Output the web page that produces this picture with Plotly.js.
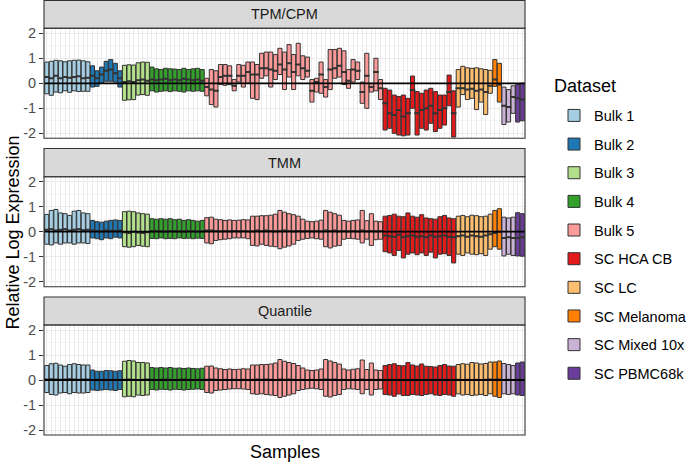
<!DOCTYPE html>
<html><head><meta charset="utf-8">
<script src="https://cdn.plot.ly/plotly-3.0.1.min.js"></script>
<style>html,body{margin:0;padding:0;background:#fff}#chart{width:692px;height:462px}</style>
</head><body><div id="chart"></div>
<script>
// ---------------- DATA ----------------
const datasets = ['Bulk 1','Bulk 2','Bulk 3','Bulk 4','Bulk 5','SC HCA CB','SC LC','SC Melanoma','SC Mixed 10x','SC PBMC68k'];
const datasetCounts = [10,7,6,12,39,16,8,2,3,2];
const datasetColors = ['#A6CEE3','#1F78B4','#B2DF8A','#33A02C','#FB9A99','#E31A1C','#FDBF6F','#FF7F00','#CAB2D6','#6A3D9A'];
const facetNames = ['TPM/CPM','TMM','Quantile'];
const legendTitle = 'Dataset';
const yTickVals = [-2,-1,0,1,2];
const yTickText = ['-2','-1','0','1','2'];

// TPM/CPM (samples in order)
const tpmQ3 = [
 0.85,0.88,0.92,0.90,0.86,0.90,0.92,0.93,0.90,0.86,
 0.70,0.50,0.65,0.88,0.95,0.80,0.50,
 0.72,0.74,0.73,0.82,0.85,0.84,
 0.65,0.58,0.55,0.60,0.58,0.57,0.55,0.60,0.55,0.58,0.60,0.55,
 0.20,0.55,0.50,0.75,0.75,0.70,0.15,0.75,0.72,0.85,
 0.85,0.75,1.20,1.25,1.25,1.15,1.40,1.25,1.55,1.15,
 1.60,1.10,1.05,0.15,0.20,0.85,0.15,1.35,1.35,1.40,
 1.30,0.55,0.95,0.85,0.05,1.20,0.00,1.00,0.15,
 -0.20,-0.27,-0.47,-0.53,-0.47,-0.60,0.29,-0.33,-0.40,-0.27,-0.20,-0.33,-0.47,-0.47,0.33,-0.30,
 0.55,0.68,0.62,0.60,0.62,0.58,0.55,0.52,
 0.95,0.80,
 -0.15,-0.25,-0.10,
 -0.05,0.00];
const tpmMed = [
 0.25,0.20,0.30,0.20,0.25,0.22,0.25,0.28,0.20,0.22,
 0.30,0.20,0.35,0.50,0.55,0.40,0.20,
 0.05,0.08,0.05,0.12,0.15,0.10,
 0.15,0.12,0.15,0.18,0.12,0.15,0.12,0.18,0.15,0.12,0.15,0.10,
 -0.15,-0.25,-0.30,0.25,0.30,0.30,-0.10,0.30,0.30,0.45,
 0.35,0.35,0.60,0.60,0.55,0.50,0.75,0.55,0.80,0.45,
 0.75,0.60,0.50,-0.30,0.05,0.35,-0.15,0.55,0.60,0.70,
 0.45,0.10,0.55,0.50,-0.35,0.30,-0.15,0.45,-0.20,
 -0.80,-1.20,-1.27,-1.07,-1.33,-1.20,-0.27,-1.20,-1.07,-1.00,-0.90,-1.20,-1.07,-1.00,-0.35,-1.20,
 -0.20,-0.20,-0.25,-0.22,-0.30,-0.25,-0.35,-0.10,
 0.15,-0.05,
 -0.90,-0.95,-0.55,
 -0.60,-0.65];
const tpmQ1 = [
 -0.42,-0.48,-0.35,-0.38,-0.30,-0.36,-0.30,-0.33,-0.32,-0.32,
 -0.15,-0.12,0.00,0.08,0.08,0.05,-0.15,
 -0.68,-0.66,-0.65,-0.47,-0.45,-0.48,
 -0.30,-0.35,-0.32,-0.30,-0.33,-0.30,-0.32,-0.35,-0.30,-0.32,-0.30,-0.32,
 -0.50,-0.85,-0.95,-0.05,-0.08,-0.05,-0.30,0.05,-0.15,0.00,
 -0.60,-0.65,0.20,0.30,-0.15,0.15,0.35,-0.25,0.25,-0.25,
 0.30,0.15,0.25,-0.75,-0.35,-0.40,-0.55,-0.25,0.20,0.25,
 -0.05,-0.20,0.05,0.15,-0.80,-1.00,-0.35,-0.30,-0.65,
 -1.87,-1.80,-2.00,-2.07,-2.10,-2.07,-1.00,-2.07,-1.80,-1.87,-1.60,-1.93,-1.80,-1.67,-0.90,-2.15,
 -0.95,-0.45,-0.65,-0.60,-1.05,-0.75,-1.25,-0.40,
 -0.12,-0.75,
 -1.65,-1.55,-1.20,
 -1.55,-1.50];

// TMM
const tmmQ3 = [
 0.69,0.85,0.89,0.75,0.72,0.65,0.82,0.85,0.75,0.72,
 0.45,0.40,0.38,0.42,0.45,0.47,0.45,
 0.80,0.82,0.80,0.75,0.72,0.70,
 0.52,0.50,0.52,0.50,0.52,0.48,0.50,0.45,0.48,0.45,0.42,0.45,
 0.56,0.58,0.50,0.48,0.45,0.47,0.45,0.46,0.48,0.47,
 0.62,0.62,0.64,0.64,0.66,0.70,0.85,0.78,0.72,0.68,
 0.62,0.50,0.42,0.40,0.42,0.46,0.85,0.78,0.72,0.66,
 0.45,0.42,0.45,0.47,0.85,0.44,0.72,0.42,0.40,
 0.62,0.65,0.70,0.62,0.60,0.75,0.62,0.58,0.68,0.55,0.52,0.50,0.60,0.65,0.55,0.52,
 0.62,0.65,0.60,0.66,0.64,0.60,0.62,0.70,
 0.85,0.92,
 0.58,0.55,0.58,
 0.76,0.72];
const tmmMed = [
 0.08,0.10,0.05,0.08,0.10,0.05,0.08,0.10,0.06,0.08,
 0.05,0.03,0.02,0.05,0.04,0.03,0.05,
 -0.02,-0.05,0.00,-0.03,-0.05,-0.02,
 0.02,0.03,0.02,0.01,0.03,0.02,0.02,0.01,0.03,0.02,0.01,0.02,
 0.05,0.05,0.03,0.02,0.03,0.02,0.03,0.02,0.03,0.02,
 0.02,0.05,0.03,0.05,0.03,0.02,0.03,0.05,0.03,0.02,
 0.03,0.02,0.03,0.02,0.03,0.02,0.05,0.03,0.05,0.02,
 0.03,0.02,0.03,0.02,0.05,0.02,0.03,0.02,0.03,
 -0.15,-0.18,-0.20,-0.12,-0.22,-0.18,-0.15,-0.20,-0.18,-0.22,-0.15,-0.20,-0.18,-0.15,-0.20,-0.22,
 -0.18,-0.15,-0.20,-0.15,-0.18,-0.20,-0.15,-0.10,
 -0.05,0.00,
 -0.25,-0.22,-0.25,
 -0.25,-0.22];
const tmmQ1 = [
 -0.50,-0.53,-0.45,-0.50,-0.45,-0.45,-0.50,-0.45,-0.45,-0.47,
 -0.25,-0.28,-0.32,-0.25,-0.28,-0.22,-0.25,
 -0.60,-0.62,-0.60,-0.55,-0.58,-0.60,
 -0.27,-0.28,-0.25,-0.28,-0.27,-0.28,-0.25,-0.27,-0.26,-0.28,-0.26,-0.27,
 -0.45,-0.48,-0.35,-0.32,-0.30,-0.28,-0.25,-0.25,-0.25,-0.28,
 -0.55,-0.57,-0.50,-0.55,-0.58,-0.60,-0.68,-0.62,-0.57,-0.50,
 -0.35,-0.30,-0.27,-0.25,-0.28,-0.30,-0.60,-0.65,-0.58,-0.55,
 -0.30,-0.27,-0.28,-0.30,-0.45,-0.30,-0.55,-0.32,-0.30,
 -0.80,-0.85,-0.95,-0.75,-1.05,-0.90,-0.85,-0.92,-0.85,-0.95,-0.82,-1.05,-0.90,-0.88,-0.95,-1.25,
 -0.90,-0.95,-0.85,-0.90,-0.92,-0.88,-0.95,-0.70,
 -0.60,-0.70,
 -0.97,-0.90,-0.95,
 -0.97,-0.98];

// Quantile
const qntQ3 = [
 0.58,0.65,0.67,0.60,0.55,0.62,0.65,0.62,0.60,0.60,
 0.40,0.35,0.35,0.38,0.37,0.35,0.37,
 0.75,0.78,0.76,0.70,0.70,0.68,
 0.50,0.48,0.50,0.48,0.50,0.47,0.48,0.46,0.48,0.46,0.45,0.47,
 0.55,0.56,0.48,0.45,0.42,0.44,0.42,0.43,0.45,0.44,
 0.60,0.60,0.62,0.62,0.64,0.68,0.82,0.75,0.70,0.66,
 0.58,0.48,0.40,0.38,0.40,0.44,0.82,0.76,0.70,0.64,
 0.44,0.40,0.43,0.45,0.80,0.42,0.68,0.40,0.38,
 0.58,0.62,0.65,0.58,0.57,0.70,0.60,0.56,0.64,0.55,0.54,0.52,0.58,0.62,0.56,0.55,
 0.62,0.65,0.63,0.70,0.68,0.64,0.66,0.72,
 0.72,0.76,
 0.66,0.62,0.58,
 0.68,0.72];
const qntMed = [
 0.02,0.03,0.02,0.01,0.02,0.03,0.02,0.01,0.02,0.02,
 0.00,0.01,0.00,0.01,0.00,0.01,0.00,
 0.01,0.02,0.01,0.00,0.01,0.02,
 0.01,0.00,0.01,0.02,0.01,0.00,0.01,0.02,0.01,0.00,0.01,0.01,
 0.01,0.02,0.01,0.00,0.01,0.00,0.01,0.00,0.01,0.00,
 0.01,0.02,0.01,0.02,0.01,0.00,0.02,0.01,0.02,0.01,
 0.00,0.01,0.00,0.01,0.00,0.01,0.02,0.01,0.02,0.00,
 0.01,0.00,0.01,0.00,0.02,0.00,0.01,0.00,0.01,
 0.00,0.01,0.00,0.01,0.00,0.01,0.00,0.01,0.00,0.01,0.00,0.01,0.00,0.01,0.00,0.01,
 0.01,0.00,0.01,0.00,0.01,0.00,0.01,0.02,
 0.01,0.02,
 0.00,0.01,0.00,
 0.01,0.00];
const qntQ1 = [
 -0.50,-0.58,-0.60,-0.52,-0.50,-0.55,-0.50,-0.52,-0.52,-0.50,
 -0.40,-0.42,-0.40,-0.38,-0.40,-0.42,-0.38,
 -0.67,-0.65,-0.67,-0.60,-0.62,-0.60,
 -0.38,-0.40,-0.37,-0.38,-0.40,-0.37,-0.38,-0.40,-0.38,-0.37,-0.36,-0.38,
 -0.50,-0.52,-0.42,-0.40,-0.38,-0.36,-0.35,-0.35,-0.36,-0.38,
 -0.55,-0.57,-0.55,-0.58,-0.60,-0.62,-0.70,-0.65,-0.60,-0.55,
 -0.42,-0.38,-0.35,-0.33,-0.35,-0.38,-0.65,-0.68,-0.62,-0.58,
 -0.38,-0.35,-0.36,-0.38,-0.55,-0.38,-0.60,-0.38,-0.36,
 -0.58,-0.60,-0.65,-0.56,-0.62,-0.62,-0.58,-0.60,-0.62,-0.58,-0.55,-0.60,-0.62,-0.58,-0.60,-0.65,
 -0.55,-0.60,-0.58,-0.62,-0.60,-0.58,-0.62,-0.55,
 -0.65,-0.70,
 -0.55,-0.58,-0.55,
 -0.60,-0.62];

const facetData = [
  {q1: tpmQ1, med: tpmMed, q3: tpmQ3},
  {q1: tmmQ1, med: tmmMed, q3: tmmQ3},
  {q1: qntQ1, med: qntMed, q3: qntQ3}
];

// ---------------- LAYOUT GEOMETRY ----------------
const W = 692, H = 462;
const mL = 44, mR = 158, mT = 0, mB = 27;
const plotH = H - mT - mB; // 435
const plotW = W - mL - mR; // 490
const panelPx = [[28.3,138.3],[176.7,286.7],[325,435]];
const stripPx = [[0.5,28.3],[148.5,176.7],[297,325]];
const py = p => (plotH - (p - mT)) / plotH;
const pxX = p => (p - mL) / plotW;
const font = 'Liberation Sans, Arial, sans-serif';

// sample positions
const nSamples = datasetCounts.reduce((a,b)=>a+b,0);
const samplePos = [];
for (let i = 1; i <= nSamples; i++) samplePos.push(i);

const yNames = ['y','y2','y3'];
const traces = [];
facetData.forEach((fd, f) => {
  let start = 0;
  datasets.forEach((ds, d) => {
    const end = start + datasetCounts[d];
    const q1 = fd.q1.slice(start, end), q3 = fd.q3.slice(start, end);
    traces.push({
      type: 'box',
      x: samplePos.slice(start, end),
      q1: q1, median: fd.med.slice(start, end), q3: q3,
      lowerfence: q1, upperfence: q3,
      xaxis: 'x', yaxis: yNames[f],
      name: ds, legendgroup: ds, showlegend: f === 0,
      fillcolor: datasetColors[d],
      line: {color: '#333333', width: 1},
      width: 0.9, whiskerwidth: 0,
      boxpoints: false, hoverinfo: 'skip'
    });
    start = end;
  });
  // thicker median bars (ggplot fatten = 2)
  traces.push({
    type: 'scatter', mode: 'markers', x: samplePos, y: fd.med,
    xaxis: 'x', yaxis: yNames[f], showlegend: false, hoverinfo: 'skip',
    marker: {symbol: 'line-ew', size: 4, line: {color: '#333333', width: 2}}
  });
});

const yAxisBase = {
  range: [-2.2, 2.2], tickvals: yTickVals, ticktext: yTickText,
  ticks: 'outside', ticklen: 4, tickwidth: 1, tickcolor: '#333333',
  tickfont: {family: font, size: 14.5, color: '#4D4D4D'},
  showgrid: true, gridcolor: '#EBEBEB', gridwidth: 1,
  minor: {tickvals: [-1.5,-0.5,0.5,1.5], showgrid: true, gridcolor: '#EBEBEB', gridwidth: 0.5, ticks: ''},
  zeroline: false, showline: false, anchor: 'x', fixedrange: true
};

const layout = {
  width: W, height: H,
  margin: {l: mL, r: mR, t: mT, b: mB, pad: 0},
  paper_bgcolor: '#ffffff', plot_bgcolor: '#ffffff',
  font: {family: font, color: '#000000'},
  showlegend: true,
  xaxis: {
    range: [0.4, nSamples + 0.6], tickvals: samplePos, showticklabels: false, ticks: '',
    showgrid: true, gridcolor: '#EBEBEB', gridwidth: 1, zeroline: false, showline: false,
    anchor: 'y3', fixedrange: true
  },
  yaxis: Object.assign({}, yAxisBase, {domain: [py(panelPx[0][1]), py(panelPx[0][0])]}),
  yaxis2: Object.assign({}, yAxisBase, {domain: [py(panelPx[1][1]), py(panelPx[1][0])]}),
  yaxis3: Object.assign({}, yAxisBase, {domain: [py(panelPx[2][1]), py(panelPx[2][0])]}),
  legend: {
    x: pxX(564), xanchor: 'left',
    y: py(99.5), yanchor: 'top',
    font: {family: font, size: 14.5, color: '#000000'},
    tracegroupgap: 6.8, bgcolor: 'rgba(0,0,0,0)'
  },
  shapes: [],
  annotations: []
};

facetNames.forEach((name, f) => {
  layout.shapes.push({type: 'rect', xref: 'paper', yref: 'paper', x0: 0, x1: 1,
    y0: py(stripPx[f][1]), y1: py(stripPx[f][0]),
    fillcolor: '#D9D9D9', line: {color: '#333333', width: 1.1}, layer: 'above'});
  layout.annotations.push({xref: 'paper', yref: 'paper', x: 0.5,
    y: py((stripPx[f][0] + stripPx[f][1]) / 2), text: name, showarrow: false,
    xanchor: 'center', yanchor: 'middle', font: {family: font, size: 14.5, color: '#1A1A1A'}});
  layout.shapes.push({type: 'line', xref: 'x domain', yref: yNames[f], x0: 0, x1: 1, y0: 0, y1: 0,
    line: {color: '#000000', width: 1.8}, layer: 'above'});
  layout.shapes.push({type: 'rect', xref: 'x domain', yref: yNames[f] + ' domain', x0: 0, x1: 1, y0: 0, y1: 1,
    line: {color: '#333333', width: 1.1}, fillcolor: 'rgba(0,0,0,0)', layer: 'above'});
});

layout.annotations.push({xref: 'paper', yref: 'paper', x: pxX(561), y: py(86), text: legendTitle,
  showarrow: false, xanchor: 'left', yanchor: 'middle', font: {family: font, size: 18, color: '#000000'}});
layout.annotations.push({xref: 'paper', yref: 'paper', x: 0.5, y: py(452), text: 'Samples',
  showarrow: false, xanchor: 'center', yanchor: 'middle', font: {family: font, size: 18, color: '#000000'}});
layout.annotations.push({xref: 'paper', yref: 'paper', x: pxX(12), y: py(233),
  text: 'Relative Log Expression', textangle: -90, showarrow: false,
  xanchor: 'center', yanchor: 'middle', font: {family: font, size: 18, color: '#000000'}});

Plotly.newPlot('chart', traces, layout, {staticPlot: true, displayModeBar: false});
</script>
</body></html>
